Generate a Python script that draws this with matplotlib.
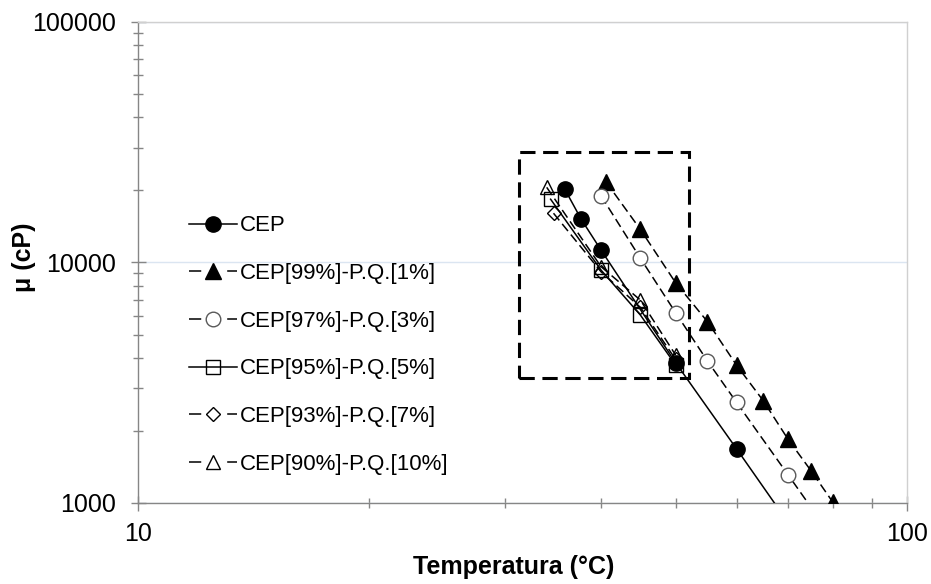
import matplotlib
matplotlib.use("Agg")
import matplotlib.pyplot as plt
from matplotlib.patches import Rectangle
from matplotlib.legend_handler import HandlerLine2D
from matplotlib.ticker import LogLocator, NullFormatter, FixedLocator, FixedFormatter

plt.rcParams['font.family'] = ['Liberation Sans', 'DejaVu Sans']

# Viscosidad (cP) frente a temperatura (°C) para cada mezcla
temp_cep = [35.9, 37.7, 40, 50, 60, 70]
mu_cep = [20100, 15100, 11250, 3830, 1680, 830]

temp_99 = [40.6, 45, 50, 55, 60, 65, 70, 75, 80]
mu_99 = [21600, 13700, 8230, 5670, 3740, 2660, 1840, 1360, 1010]

temp_97 = [40, 45, 50, 55, 60, 70, 80]
mu_97 = [18900, 10400, 6180, 3890, 2620, 1310, 716]

temp_95 = [34.4, 40, 45, 50]
mu_95 = [18300, 9290, 6040, 3750]

temp_93 = [34.7, 40, 45, 50]
mu_93 = [16000, 9140, 6500, 3950]

temp_90 = [34.0, 40, 45, 50]
mu_90 = [20500, 9600, 6970, 4120]

etiquetas = ['CEP', 'CEP[99%]-P.Q.[1%]', 'CEP[97%]-P.Q.[3%]',
             'CEP[95%]-P.Q.[5%]', 'CEP[93%]-P.Q.[7%]', 'CEP[90%]-P.Q.[10%]']

# Zona destacada con el recuadro discontinuo
caja_temp = (31.3, 52.0)
caja_mu = (3300, 28800)

fig = plt.figure(figsize=(9.31, 5.84), dpi=100)
ax = fig.add_axes([0.1479, 0.1387, 0.8266, 0.8241])

guion = (6, 3)
ax.plot(temp_cep, mu_cep, color='black', lw=1.1, marker='o', ms=11,
        mfc='black', mec='black', label=etiquetas[0], zorder=5)
ax.plot(temp_99, mu_99, color='black', lw=1.1, ls='--', dashes=guion,
        marker='^', ms=11, mfc='black', mec='black', label=etiquetas[1], zorder=4)
ax.plot(temp_97, mu_97, color='black', lw=1.1, ls='--', dashes=guion,
        marker='o', ms=10.5, mfc='white', mec='#595959', mew=1.0,
        label=etiquetas[2], zorder=4)
ax.plot(temp_95, mu_95, color='black', lw=1.1, marker='s', ms=9.5,
        mfc='none', mec='black', mew=1.0, label=etiquetas[3], zorder=3)
ax.plot(temp_93, mu_93, color='black', lw=1.1, ls='--', dashes=guion,
        marker='D', ms=7.5, mfc='none', mec='black', mew=1.0,
        label=etiquetas[4], zorder=3)
ax.plot(temp_90, mu_90, color='black', lw=1.1, ls='--', dashes=guion,
        marker='^', ms=10, mfc='none', mec='black', mew=1.0,
        label=etiquetas[5], zorder=3)

caja = Rectangle((caja_temp[0], caja_mu[0]),
                 caja_temp[1] - caja_temp[0], caja_mu[1] - caja_mu[0],
                 fill=False, ec='black', lw=2.2, zorder=2)
caja.set_linestyle((0, (5, 2.5)))
ax.add_patch(caja)

ax.set_xscale('log')
ax.set_yscale('log')
ax.set_xlim(10, 100)
ax.set_ylim(1000, 100000)

ax.xaxis.set_major_locator(FixedLocator([10, 100]))
ax.xaxis.set_major_formatter(FixedFormatter(['10', '100']))
ax.xaxis.set_minor_locator(LogLocator(base=10, subs=range(2, 10)))
ax.xaxis.set_minor_formatter(NullFormatter())
ax.yaxis.set_major_locator(FixedLocator([1000, 10000, 100000]))
ax.yaxis.set_major_formatter(FixedFormatter(['1000', '10000', '100000']))
ax.yaxis.set_minor_locator(LogLocator(base=10, subs=range(2, 10)))
ax.yaxis.set_minor_formatter(NullFormatter())

eje = '#868686'
ax.tick_params(which='major', direction='inout', length=10.8, width=1.0,
               color=eje, labelsize=18, pad=10)
ax.tick_params(which='minor', direction='inout', length=7.2, width=1.0,
               color=eje)
ax.tick_params(axis='x', which='major', pad=8)
for lado in ['left', 'bottom']:
    ax.spines[lado].set_color(eje)
    ax.spines[lado].set_linewidth(1.0)
for lado in ['top', 'right']:
    ax.spines[lado].set_color('#d0d0d0')
    ax.spines[lado].set_linewidth(1.0)

ax.yaxis.grid(True, which='major', color='#dbe5f1', lw=1.0)
ax.set_axisbelow(True)

ax.set_xlabel('Temperatura (°C)', fontsize=18, fontweight='bold')
ax.set_ylabel('μ (cP)', fontsize=18, fontweight='bold')
ax.xaxis.set_label_coords(0.489, -0.108)
ax.yaxis.set_label_coords(-0.132, 0.51)


def trazo_leyenda(linea, original):
    # en la leyenda las series discontinuas solo llevan un guion a cada lado
    linea.update_from(original)
    if original.get_linestyle() == '--':
        linea.set_dashes((8, 17))


ax.legend(loc='center left', bbox_to_anchor=(0.055, 0.328), frameon=False,
          fontsize=16, handlelength=2.15, handletextpad=0.15,
          labelspacing=1.2, borderaxespad=0,
          handler_map={plt.Line2D: HandlerLine2D(update_func=trazo_leyenda)})

fig.savefig('out.png', dpi=100)
